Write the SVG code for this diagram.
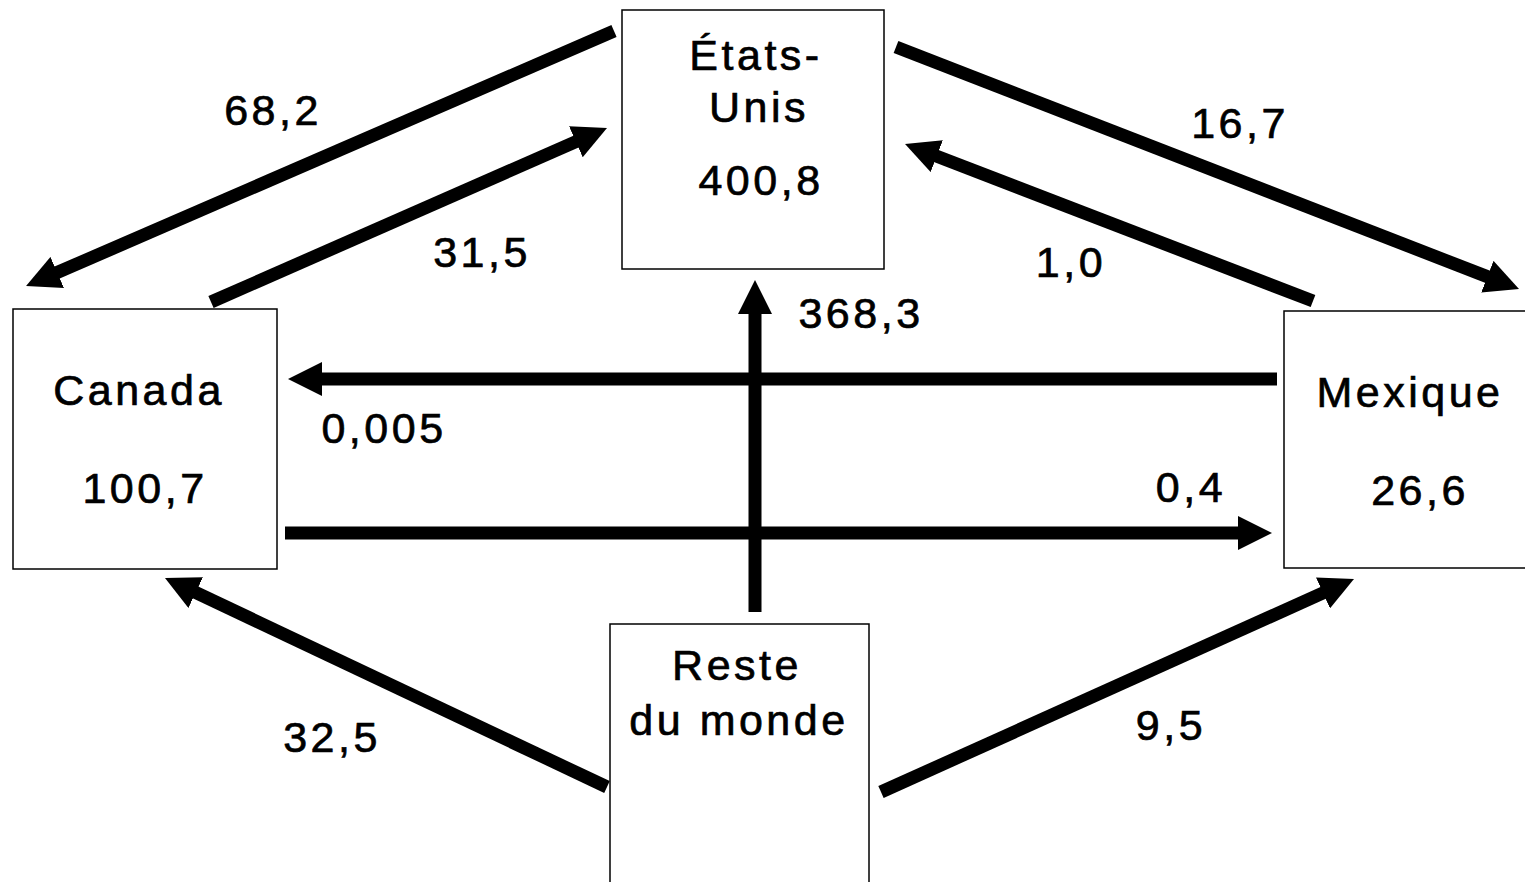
<svg xmlns="http://www.w3.org/2000/svg" width="1525" height="882" viewBox="0 0 1525 882">
<style>
  .box { fill: #ffffff; stroke: #000000; stroke-width: 1.5; }
  .t { font-family: "Liberation Sans", Arial, sans-serif; font-size: 43px; letter-spacing: 3.5px; fill: #000000; stroke: #000000; stroke-width: 0.7px; text-anchor: middle; }
  .c { stroke: #000000; stroke-width: 13; fill: none; stroke-linecap: butt; marker-end: url(#ah); }
</style>
<defs>
  <marker id="ah" markerUnits="userSpaceOnUse" viewBox="0 0 34 34" markerWidth="34" markerHeight="34" refX="2" refY="17" orient="auto">
    <path d="M0,0 L34,17 L0,34 Z" fill="#000000"/>
  </marker>
</defs>
<rect width="1525" height="882" fill="#ffffff"/>

<g id="connectors">
  <line class="c" x1="614" y1="31" x2="55.4" y2="273.3"/>
  <line class="c" x1="211" y1="302" x2="577.7" y2="140.9"/>
  <line class="c" x1="896" y1="47" x2="1489.2" y2="277.4"/>
  <line class="c" x1="1313" y1="301" x2="934.9" y2="155.5"/>
  <line class="c" x1="1277" y1="379" x2="320" y2="379"/>
  <line class="c" x1="285" y1="533" x2="1240" y2="533"/>
  <line class="c" x1="755" y1="612" x2="755" y2="312"/>
  <line class="c" x1="607" y1="787" x2="193.9" y2="591.7"/>
  <line class="c" x1="881" y1="792" x2="1324.8" y2="592.1"/>
  <text class="t" x="273" y="125">68,2</text>
  <text class="t" x="482" y="267">31,5</text>
  <text class="t" x="1240" y="138">16,7</text>
  <text class="t" x="1071" y="277">1,0</text>
  <text class="t" x="861" y="328">368,3</text>
  <text class="t" x="384" y="443">0,005</text>
  <text class="t" x="1191" y="502">0,4</text>
  <text class="t" x="332" y="752">32,5</text>
  <text class="t" x="1171" y="740">9,5</text>
</g>

<g id="etats-unis">
  <rect class="box" x="622" y="10" width="262" height="259"/>
  <text class="t" x="756" y="70">États-</text>
  <text class="t" x="759" y="122">Unis</text>
  <text class="t" x="761" y="195">400,8</text>
</g>

<g id="canada">
  <rect class="box" x="13" y="309" width="264" height="260"/>
  <text class="t" x="139" y="405">Canada</text>
  <text class="t" x="145" y="503">100,7</text>
</g>

<g id="mexique">
  <rect class="box" x="1284" y="311" width="250" height="257"/>
  <text class="t" x="1410" y="407">Mexique</text>
  <text class="t" x="1420" y="505">26,6</text>
</g>

<g id="reste-du-monde">
  <rect class="box" x="610" y="624" width="259" height="270"/>
  <text class="t" x="737" y="680">Reste</text>
  <text class="t" x="739" y="735">du monde</text>
</g>
</svg>
